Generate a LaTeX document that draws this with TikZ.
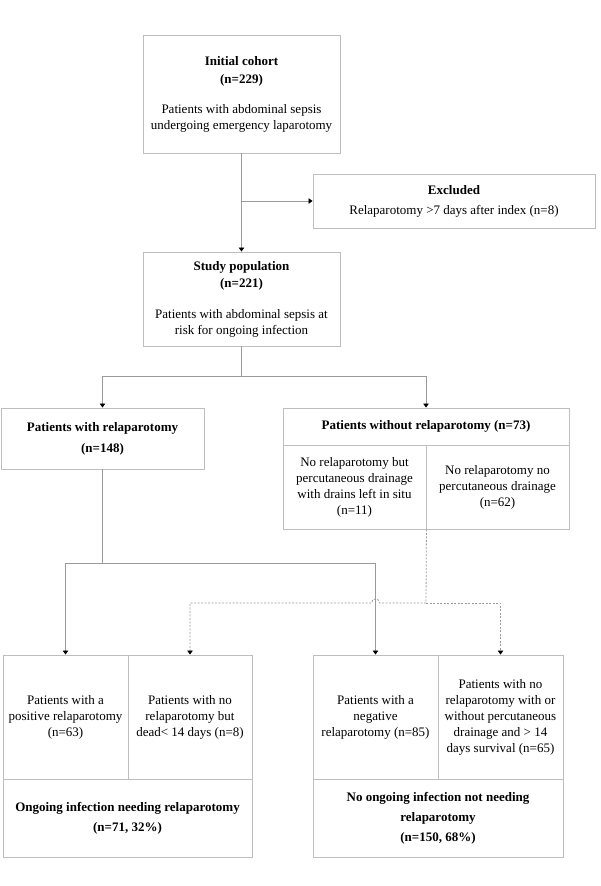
\documentclass[tikz,border=0pt]{standalone}
\usepackage{fontspec}
\setmainfont{Liberation Serif}
\usetikzlibrary{arrows.meta}
\definecolor{boxgray}{RGB}{190,190,190}
\definecolor{linegray}{RGB}{155,155,155}
\begin{document}
\begin{tikzpicture}[x=1pt,y=-1pt,
  cell/.style={draw=boxgray, line width=0.9pt, rectangle, align=center, inner sep=0pt,
               font=\fontsize{13}{16}\selectfont},
  conn/.style={draw=linegray, line width=0.8pt},
  arr/.style={conn, -{Triangle[length=4pt,width=5.5pt,color=black]}},
  dconn/.style={conn, dash pattern=on 2pt off 1.5pt},
  darr/.style={dconn, -{Triangle[length=4pt,width=5.5pt,color=black]}}]
\useasboundingbox (0,0) rectangle (600,886);

% boxes
\node[cell, minimum width=197pt, minimum height=118pt] (init) at (241.5,94)
  {\textbf{Initial cohort}\\[2pt]\textbf{(n=229)}\\[14pt]Patients with abdominal sepsis\\undergoing emergency laparotomy};
\node[cell, minimum width=282pt, minimum height=54pt] (excl) at (454,201)
  {\textbf{Excluded}\\[4pt]Relaparotomy >7 days after index (n=8)};
\node[cell, minimum width=197pt, minimum height=94pt] (study) at (241.5,299)
  {\textbf{Study population}\\[1pt]\textbf{(n=221)}\\[15pt]Patients with abdominal sepsis at\\risk for ongoing infection};
\node[cell, minimum width=203pt, minimum height=61pt] (rel) at (102.5,438.5)
  {\textbf{Patients with relaparotomy}\\[5pt]\textbf{(n=148)}};
\node[cell, minimum width=286pt, minimum height=37pt] (wo) at (426,426.5)
  {\textbf{Patients without relaparotomy (n=73)}};
\node[cell, minimum width=143pt, minimum height=84pt] (wo1) at (354.5,487)
  {No relaparotomy but\\percutaneous drainage\\with drains left in situ\\(n=11)};
\node[cell, minimum width=143pt, minimum height=84pt] (wo2) at (497.5,487)
  {No relaparotomy no\\percutaneous drainage\\(n=62)};

\node[cell, minimum width=125pt, minimum height=124pt] (pos) at (65.5,717)
  {Patients with a\\positive relaparotomy\\(n=63)};
\node[cell, minimum width=124pt, minimum height=124pt] (dead) at (190,717)
  {Patients with no\\relaparotomy but\\dead< 14 days (n=8)};
\node[cell, minimum width=249pt, minimum height=78pt] (ongo) at (127.5,818)
  {\textbf{Ongoing infection needing relaparotomy}\\[4pt]\textbf{(n=71, 32\%)}};
\node[cell, minimum width=125pt, minimum height=124pt] (neg) at (375.5,717)
  {Patients with a\\negative\\relaparotomy (n=85)};
\node[cell, minimum width=125pt, minimum height=124pt] (surv) at (500.5,717)
  {Patients with no\\relaparotomy with or\\without percutaneous\\drainage and > 14\\days survival (n=65)};
\node[cell, minimum width=250pt, minimum height=78pt] (noong) at (438,818)
  {\textbf{No ongoing infection not needing}\\[4pt]\textbf{relaparotomy}\\[4pt]\textbf{(n=150, 68\%)}};

% connectors
\coordinate (ej) at (init.south |- excl.west);
\draw[arr] (init.south) -- (study.north);
\draw[arr] (ej) -- (excl.west);

\coordinate (sj) at (241.5,376);
\draw[conn] (study.south) -- (sj);
\draw[arr] (sj) -| (rel.north);
\draw[arr] (sj) -| (wo.north);

\coordinate (rj) at (102.5,563);
\draw[conn] (rel.south) -- (rj);
\draw[arr] (rj) -| (pos.north);
\draw[arr] (rj) -| (neg.north);

\coordinate (dj) at (426,603);
\coordinate (hopR) at (379.5,603);
\coordinate (hopL) at (371.5,603);
\draw[dconn] (wo1.south east) -- (dj);
\draw[darr] (dj) -- (hopR) .. controls (379.5,597.5) and (371.5,597.5) .. (hopL) -| (dead.north);
\draw[darr] (dj) -| (surv.north);
\end{tikzpicture}
\end{document}
